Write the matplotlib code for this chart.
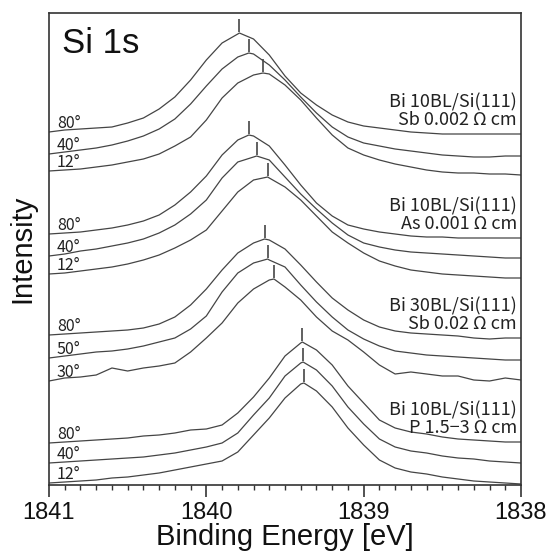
import numpy as np
import matplotlib
matplotlib.use("Agg")
import matplotlib.pyplot as plt
from matplotlib.ticker import MultipleLocator, FormatStrFormatter

# ---------------- data (binding energy grid, eV) ----------------
energy = [1841.0, 1840.9, 1840.8, 1840.7, 1840.6, 1840.5, 1840.4, 1840.3, 1840.2, 1840.1,
          1840.0, 1839.9, 1839.8, 1839.7, 1839.6, 1839.5, 1839.4, 1839.3, 1839.2, 1839.1,
          1839.0, 1838.9, 1838.8, 1838.7, 1838.6, 1838.5, 1838.4, 1838.3, 1838.2, 1838.1,
          1838.0]

# Bi 10BL/Si(111) Sb 0.002 Ohm cm
sb002_80 = [353, 355, 356, 357, 358, 362, 367, 376, 388, 405, 425, 442, 451, 446, 430, 409,
            392, 380, 370, 363, 359, 357, 355, 353, 352, 351, 351, 351, 351, 351, 351]
sb002_40 = [331, 333, 335, 337, 340, 344, 349, 356, 366, 381, 399, 416, 428, 431, 420, 405,
            388, 372, 358, 348, 342, 339, 336, 334, 332, 330, 329, 328, 328, 329, 329]
sb002_12 = [314, 315, 316, 318, 320, 323, 326, 331, 339, 348, 365, 387, 402, 410, 411, 400,
            385, 367, 350, 337, 330, 325, 321, 318, 315, 313, 312, 312, 311, 311, 310]
# Bi 10BL/Si(111) As 0.001 Ohm cm
as001_80 = [251, 252, 253, 255, 257, 260, 264, 270, 280, 293, 309, 330, 345, 349, 339, 320,
            300, 282, 269, 260, 256, 253, 251, 249, 248, 248, 247, 247, 247, 247, 247]
as001_40 = [229, 231, 234, 236, 239, 242, 246, 252, 260, 271, 285, 307, 323, 328, 325, 308,
            291, 276, 262, 250, 242, 238, 235, 233, 232, 231, 230, 229, 228, 227, 227]
as001_12 = [211, 212, 214, 216, 218, 221, 225, 230, 237, 245, 255, 274, 293, 305, 307, 298,
            285, 269, 253, 242, 232, 224, 219, 215, 213, 211, 210, 209, 208, 207, 207]
# Bi 30BL/Si(111) Sb 0.02 Ohm cm
sb02_80 = [150, 151, 152, 153, 154, 155, 157, 161, 168, 180, 196, 215, 232, 242, 245, 236,
           220, 203, 187, 175, 165, 158, 154, 152, 151, 150, 149, 147, 146, 147, 147]
sb02_50 = [127, 129, 131, 133, 134, 136, 139, 143, 147, 156, 169, 193, 212, 222, 225, 218,
           200, 183, 168, 155, 146, 139, 134, 132, 130, 129, 128, 127, 126, 125, 125]
sb02_30 = [104, 107, 108, 110, 117, 114, 117, 119, 122, 133, 147, 162, 182, 196, 205, 198,
           185, 168, 154, 145, 133, 120, 111, 113, 111, 109, 109, 105, 104, 107, 105]
# Bi 10BL/Si(111) P 1.5-3 Ohm cm
p15_80 = [42, 43, 44, 45, 46, 47, 49, 50, 52, 55, 56, 60, 72, 88, 107, 129,
          142, 135, 120, 99, 82, 65, 57, 53, 51, 48, 46, 45, 44, 43, 43]
p15_40 = [22, 23, 24, 25, 26, 27, 28, 30, 32, 35, 38, 42, 52, 70, 87, 109,
          122, 115, 99, 78, 61, 46, 38, 34, 32, 29, 27, 26, 24, 23, 22]
p15_12 = [2, 3, 4, 5, 7, 8, 10, 12, 15, 18, 21, 24, 33, 50, 67, 87,
          101, 94, 78, 57, 40, 25, 17, 13, 11, 8, 6, 4, 3, 2, 1]

# peak positions (eV) and peak intensities for each spectrum (same order as curves)
peak_energy = [1839.79, 1839.73, 1839.64,
               1839.73, 1839.68, 1839.61,
               1839.63, 1839.61, 1839.57,
               1839.39, 1839.385, 1839.38]
peak_intensity = [452, 432, 412,
                  350, 329, 308,
                  246, 226, 206,
                  143, 123, 102]

curves = [sb002_80, sb002_40, sb002_12,
          as001_80, as001_40, as001_12,
          sb02_80, sb02_50, sb02_30,
          p15_80, p15_40, p15_12]
angle_labels = ["80°", "40°", "12°",
                "80°", "40°", "12°",
                "80°", "50°", "30°",
                "80°", "40°", "12°"]
sample_line1 = ["Bi 10BL/Si(111)", "Bi 10BL/Si(111)", "Bi 30BL/Si(111)", "Bi 10BL/Si(111)"]
sample_line2 = ["Sb 0.002 Ω cm", "As 0.001 Ω cm", "Sb 0.02 Ω cm", "P 1.5−3 Ω cm"]
xticks = [1841, 1840, 1839, 1838]

# ---------------- figure ----------------
W, H = 554, 553
fig = plt.figure(figsize=(W / 100, H / 100), dpi=100)
ax = fig.add_axes([49 / W, 1 - 485 / H, 472 / W, 472 / H])

line_color = "#454545"
ann_font = ["Noto Sans CJK JP", "DejaVu Sans"]
main_font = ["Liberation Sans", "DejaVu Sans"]

E = np.array(energy)
for i, vals in enumerate(curves):
    e_all = np.append(E, peak_energy[i])
    v_all = np.append(np.array(vals, float), peak_intensity[i])
    order = np.argsort(-e_all)
    ax.plot(e_all[order], v_all[order], color=line_color, lw=0.9)
    # vertical peak marker
    ax.vlines(peak_energy[i], peak_intensity[i] + 1, peak_intensity[i] + 14,
              color=line_color, lw=1.2)
    # angle label at left
    ax.text(1840.95, vals[0] + 4, angle_labels[i], fontsize=11.5, family=ann_font,
            ha="left", va="baseline", color="#222222")

# sample labels at right, above the top curve of each group
for g in range(4):
    top = curves[3 * g]
    ax.text(1838.025, top[-1] + 9, sample_line2[g], fontsize=13, family=ann_font,
            ha="right", va="baseline", color="#222222")
    ax.text(1838.025, top[-1] + 27, sample_line1[g], fontsize=13, family=ann_font,
            ha="right", va="baseline", color="#222222")

ax.text(0.0275, 0.915, "Si 1s", transform=ax.transAxes, fontsize=25,
        family=main_font, ha="left", va="baseline", color="#111111")

ax.set_xlim(1841, 1838)
ax.set_ylim(0, 472)
ax.set_xticks(xticks)
ax.xaxis.set_major_formatter(FormatStrFormatter("%d"))
ax.xaxis.set_minor_locator(MultipleLocator(0.1))
ax.set_yticks([])
ax.tick_params(axis="x", which="major", direction="out", length=8.6, width=1.2,
               pad=3.5, labelsize=17, colors="#333333", labelcolor="#111111")
ax.tick_params(axis="x", which="minor", direction="out", length=3.6, width=1.0,
               colors="#333333")
for lab in ax.get_xticklabels():
    lab.set_family(main_font)
for s in ax.spines.values():
    s.set_color("#333333")
    s.set_linewidth(1.2)

ax.set_xlabel("Binding Energy [eV]", fontsize=21, family=main_font, color="#111111")
ax.xaxis.set_label_coords(0.5, -0.08)
ax.set_ylabel("Intensity", fontsize=21, family=main_font, color="#111111")
ax.yaxis.set_label_coords(-0.027, 0.5)

fig.savefig("out.png", dpi=100)
